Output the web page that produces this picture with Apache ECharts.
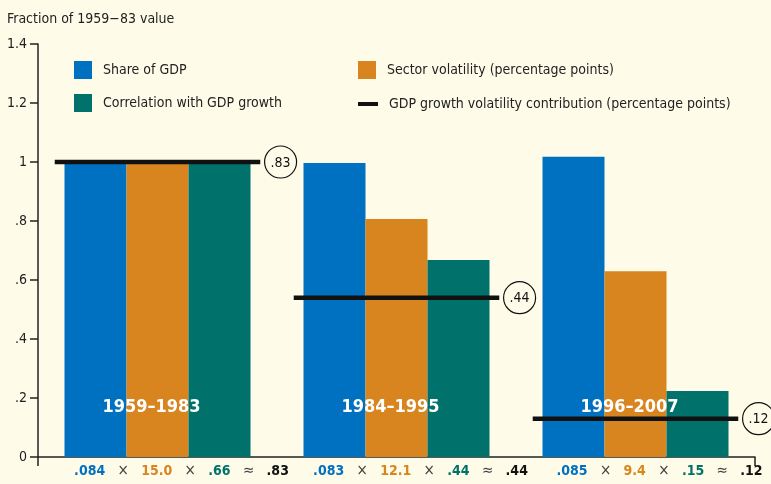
<!DOCTYPE html>
<html>
<head>
    <meta charset="utf-8">
    <title>Fraction of 1959-83 value</title>
    <style>
        html, body { margin: 0; padding: 0; background: #fefce9; }
    </style>
</head>
<body>
<div id="container" style="width: 771px; height: 484px;"></div>
<script src="https://cdn.jsdelivr.net/npm/echarts@6/dist/echarts.min.js" charset="utf-8"></script>
<script>
    // periods (categories)
    var periods = ['1959\u20131983', '1984\u20131995', '1996\u20132007'];

    // bar heights, fraction of 1959-83 value
    var shareGdp = [1.0, 0.997, 1.018];
    var sectorVol = [1.0, 0.807, 0.63];
    var corrGdp = [1.0, 0.668, 0.224];
    var contribution = [1.0, 0.54, 0.13];

    // numbers printed under the axis
    var shareTxt = ['.084', '.083', '.085'];
    var volTxt = ['15.0', '12.1', '9.4'];
    var corrTxt = ['.66', '.44', '.15'];
    var contribTxt = ['.83', '.44', '.12'];

    var yTickLabels = ['0', '.2', '.4', '.6', '.8', '1', '1.2', '1.4'];

    var names = ['Share of GDP', 'Sector volatility (percentage points)',
        'Correlation with GDP growth', 'GDP growth volatility contribution (percentage points)'];

    var colors = ['#0070c0', '#d8841f', '#00716b', '#111111'];
    var font = "'Liberation Sans Narrow', 'DejaVu Sans Condensed', sans-serif";
    var bg = '#fefce9';

    var myChart = echarts.init(document.getElementById('container'));

    function numStyle(c) {
        return {color: c, fontWeight: 'bold', fontSize: 14, fontFamily: font};
    }

    var legendText = {fontSize: 14, color: '#222', fontFamily: font, padding: [0, 0, 0, 6]};

    var option = {
        backgroundColor: bg,
        animation: false,
        textStyle: {fontFamily: font},
        title: {
            text: 'Fraction of 1959\u221283 value',
            left: 2,
            top: 7,
            textStyle: {fontSize: 14, fontWeight: 'normal', color: '#222', fontFamily: font}
        },
        legend: [{
            left: 74, top: 61, orient: 'vertical', padding: 0,
            itemWidth: 18, itemHeight: 18, itemGap: 15,
            selectedMode: false,
            data: [{name: names[0], icon: 'rect'}, {name: names[2], icon: 'rect'}],
            textStyle: legendText
        }, {
            left: 358, top: 61, padding: 0,
            itemWidth: 18, itemHeight: 18,
            selectedMode: false,
            data: [{name: names[1], icon: 'rect'}],
            textStyle: legendText
        }, {
            left: 358, top: 97, padding: 0,
            itemWidth: 20, itemHeight: 4,
            selectedMode: false,
            data: [{name: names[3], icon: 'rect'}],
            textStyle: legendText
        }],
        grid: {left: 38, right: 16, top: 44, bottom: 27, outerBoundsMode: 'none'},
        xAxis: {
            type: 'category',
            data: periods,
            axisLine: {lineStyle: {color: '#222', width: 1.5}},
            axisTick: {
                show: true, length: 9,
                lineStyle: {color: '#222', width: 1.5},
                interval: function (index) { return index === 0; }
            },
            axisLabel: {
                margin: 7,
                interval: 0,
                hideOverlap: false,
                formatter: function (value, index) {
                    return '{sp|}{b|' + shareTxt[index] + '}{op|\u00d7}{o|' + volTxt[index] +
                        '}{op|\u00d7}{t|' + corrTxt[index] + '}{op|\u2248}{k|' + contribTxt[index] + '}';
                },
                rich: {
                    sp: {width: 48},
                    b: numStyle(colors[0]),
                    o: numStyle(colors[1]),
                    t: numStyle(colors[2]),
                    k: numStyle('#111'),
                    op: {width: 36, align: 'center', color: '#444', fontSize: 15, fontFamily: font}
                }
            }
        },
        yAxis: {
            type: 'value',
            min: 0,
            max: 1.4,
            interval: 0.2,
            splitLine: {show: false},
            axisLine: {show: true, lineStyle: {color: '#222', width: 1.5}},
            axisTick: {show: true, length: 8, lineStyle: {color: '#222', width: 1.5}},
            axisLabel: {
                margin: 11,
                fontSize: 14,
                color: '#222',
                fontFamily: font,
                formatter: function (v) {
                    return yTickLabels[Math.round(v / 0.2)];
                }
            }
        },
        series: [{
            name: names[0], type: 'bar', data: shareGdp,
            barWidth: 62, barGap: '0%',
            itemStyle: {color: colors[0]},
            emphasis: {disabled: true}
        }, {
            name: names[1], type: 'bar', data: sectorVol,
            barWidth: 62, barGap: '0%',
            itemStyle: {color: colors[1]},
            emphasis: {disabled: true}
        }, {
            name: names[2], type: 'bar', data: corrGdp,
            barWidth: 62, barGap: '0%',
            itemStyle: {color: colors[2]},
            emphasis: {disabled: true}
        }, {
            name: names[3],
            type: 'custom',
            itemStyle: {color: colors[3]},
            z: 5,
            data: contribution.map(function (v, i) { return [i, v]; }),
            renderItem: function (params, api) {
                var i = api.value(0);
                var pt = api.coord([i, api.value(1)]);
                var base = api.coord([i, 0]);
                var band = api.size([1, 0])[0];
                var half = band * 0.43;
                var cx = pt[0] + band * 0.515;
                return {
                    type: 'group',
                    children: [{
                        type: 'text',
                        style: {
                            x: base[0] - 6, y: base[1] - 50,
                            text: periods[i],
                            fill: '#fff',
                            font: 'bold 18px ' + font,
                            align: 'center', verticalAlign: 'middle'
                        }
                    }, {
                        type: 'line',
                        shape: {x1: pt[0] - half, y1: pt[1], x2: pt[0] + half, y2: pt[1]},
                        style: {stroke: '#111', lineWidth: 4.5}
                    }, {
                        type: 'circle',
                        shape: {cx: cx, cy: pt[1], r: 16},
                        style: {fill: bg, stroke: '#111', lineWidth: 1.2}
                    }, {
                        type: 'text',
                        style: {
                            x: cx, y: pt[1] + 1,
                            text: contribTxt[i],
                            fill: '#111',
                            font: '14px ' + font,
                            align: 'center', verticalAlign: 'middle'
                        }
                    }]
                };
            }
        }]
    };

    myChart.setOption(option);
</script>
</body>
</html>
